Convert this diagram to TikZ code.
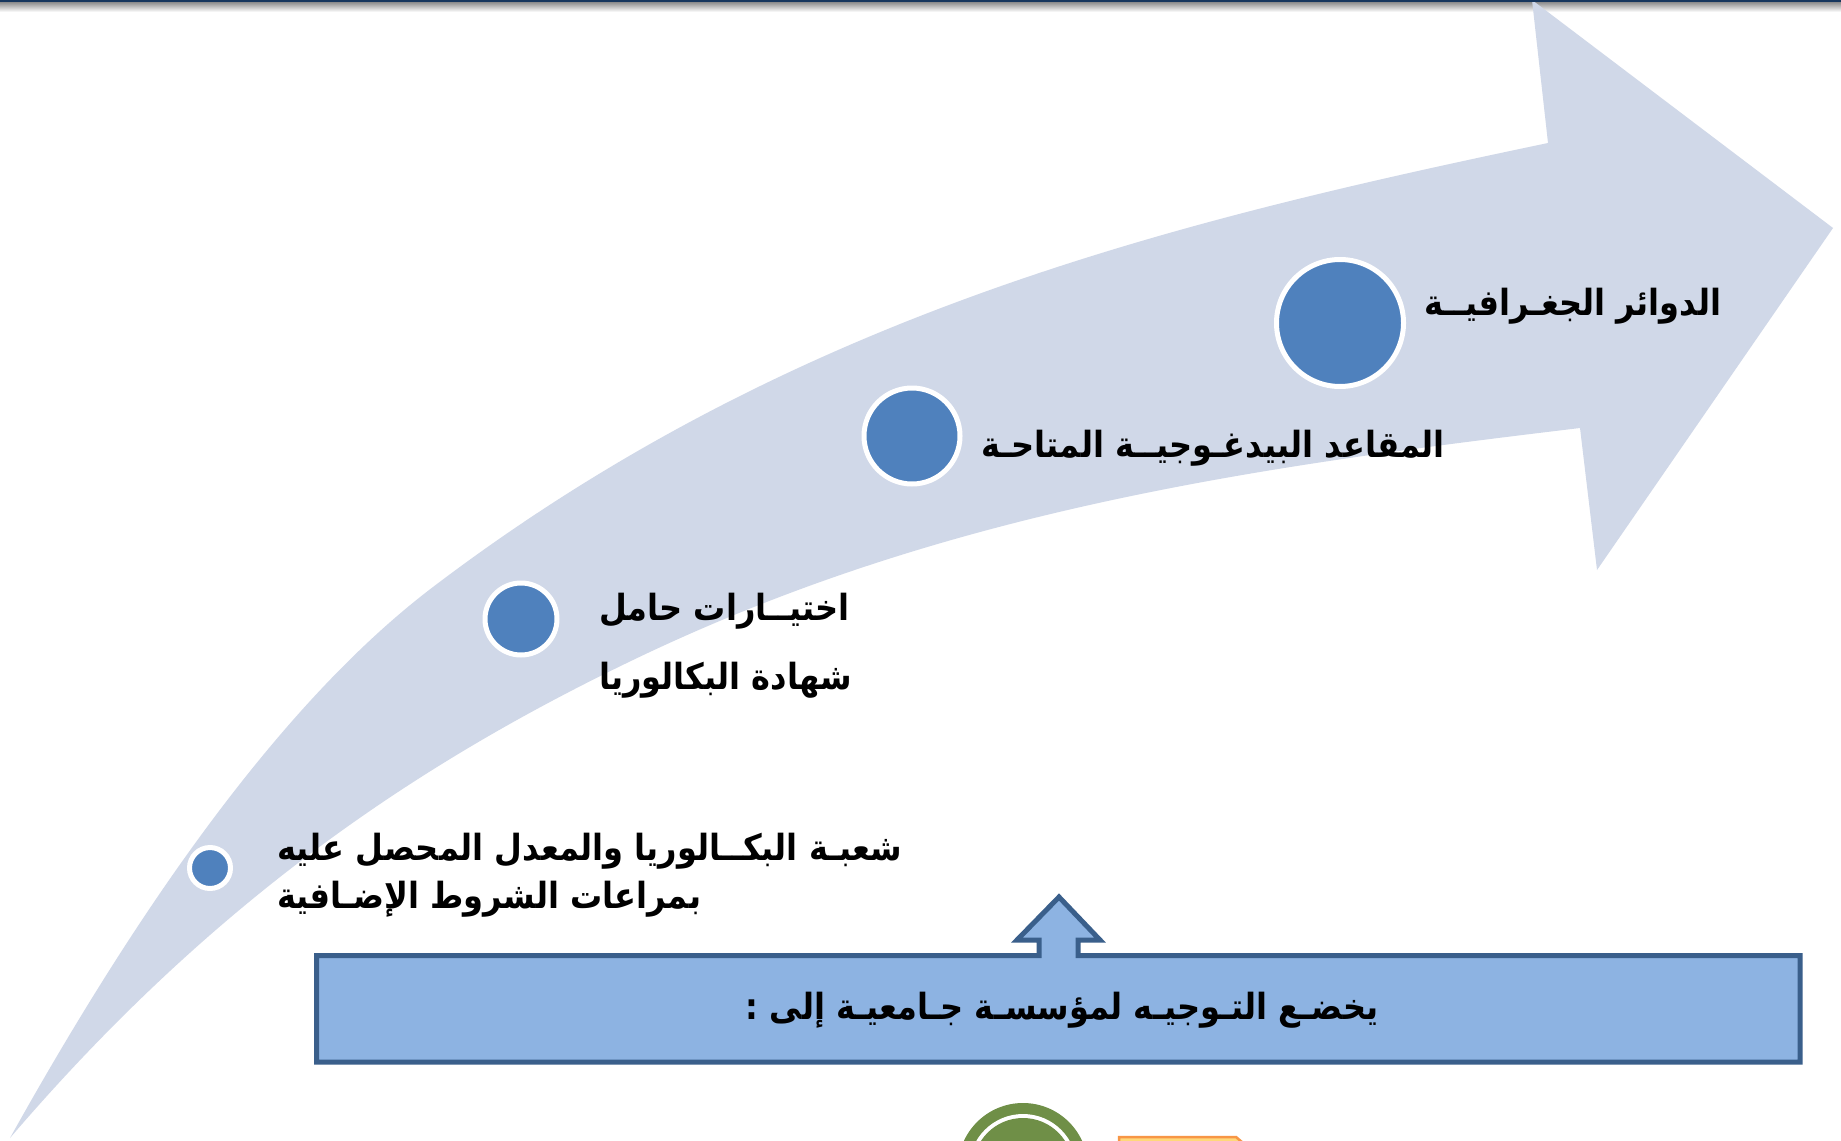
\documentclass[tikz,border=0pt]{standalone}
\usepackage{fontspec}
\newfontfamily\arabicfont[Script=Arabic, FakeStretch=0.89]{DejaVu Sans}
\TeXXeTstate=1
\definecolor{arrowfill}{HTML}{D0D8E8}
\definecolor{dotblue}{HTML}{4F81BD}
\definecolor{boxfill}{HTML}{8DB3E2}
\definecolor{boxline}{HTML}{3A5F8B}
\definecolor{navy}{HTML}{17375E}
\definecolor{leafgreen}{HTML}{6F8F47}
\definecolor{orangeline}{HTML}{F79646}
\definecolor{orangefill}{HTML}{FFD87A}
\tikzset{
  dot/.style={circle, fill=dotblue, draw=white, line width=5pt, inner sep=0pt},
  lbl/.style={inner sep=0pt, anchor=base west, font=\arabicfont\bfseries\fontsize{36}{44}\selectfont},
  boxlbl/.style={inner sep=0pt, anchor=base, font=\arabicfont\bfseries\fontsize{36}{44}\selectfont},
}
\begin{document}
\begin{tikzpicture}[x=1pt,y=-1pt]
\useasboundingbox (0,0) rectangle (1841,1140);
\fill[white] (0,0) rectangle (1841,1140);
% top rule shadow
\shade[top color=black!45, bottom color=white] (0,2) rectangle (1841,12);
% big curved arrow
\fill[arrowfill] (10,1138)
  .. controls (151,885) and (292,694) .. (433,587)
  .. controls (795,312) and (1176,221) .. (1548,143)
  -- (1532,0) -- (1833,228) -- (1597,570) -- (1580,428)
  .. controls (1264,466) and (949,508) .. (633,660)
  .. controls (425,760) and (218,895) .. (10,1138)
  -- cycle;
% top rule
\fill[navy] (0,0) rectangle (1841,2.5);
% dots
\node[dot, minimum size=41pt] (c1) at (210,868) {};
\node[dot, minimum size=72pt] (c2) at (521,619) {};
\node[dot, minimum size=96pt] (c3) at (912,436) {};
\node[dot, minimum size=127pt] (c4) at (1340,323) {};
% labels
\node[lbl] (t1) at (1424,315) {\beginR الدوائر الجغـرافيــة\endR};
\node[lbl] (t2) at (981,457) {\beginR المقاعد البيدغـوجيــة المتاحـة\endR};
\node[lbl] (t3) at (599,620) {\beginR اختيــارات حامل\endR};
\node[lbl] (t4) at (599,689) {\beginR شهادة البكالوريا\endR};
\node[lbl] (t5) at (277,860) {\beginR شعبـة البكــالوريا والمعدل المحصل عليه\endR};
\node[lbl] (t6) at (277,908) {\beginR بمراعات الشروط الإضـافية\endR};
% box with up arrow
\coordinate (bl) at (316.5,1062);
\coordinate (tr) at (1800,955.5);
\filldraw[fill=boxfill, draw=boxline, line width=5pt, line join=miter]
  (316.5,955.5) -- (1039,955.5) -- (1039,940) -- (1017,940) -- (1059,897) coordinate (tip)
  -- (1100,940) -- (1078,940) -- (1078,955.5) -- (tr) -- (1800,1062) -- (bl) -- cycle;
\node[boxlbl] (box) at (1062,1019) {\beginR يخضـع التـوجيـه لمؤسسـة جـامعيـة إلى :\endR};
% partial shapes at the bottom edge
\fill[leafgreen] (1023,1168) circle (65);
\fill[white] (1023,1168) circle (54);
\fill[leafgreen] (1023,1168) circle (50);
\filldraw[fill=orangefill, draw=orangeline, line width=2.5pt] (1119,1137) -- (1236,1137) -- (1243,1143) -- (1243,1150) -- (1119,1150) -- cycle;
\end{tikzpicture}
\end{document}
